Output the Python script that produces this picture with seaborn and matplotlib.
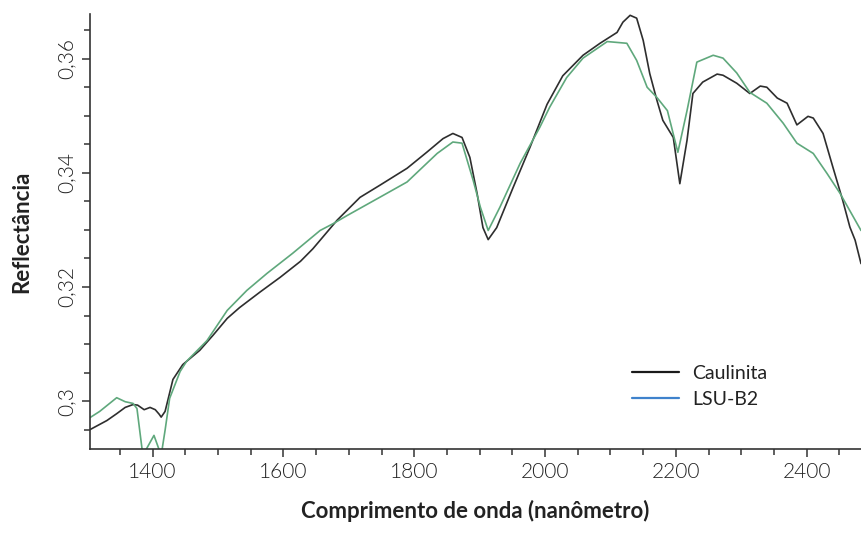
import matplotlib
matplotlib.use("Agg")
import matplotlib.pyplot as plt
from matplotlib.lines import Line2D
from matplotlib.ticker import MultipleLocator, FixedLocator, FixedFormatter
import pandas as pd
import seaborn as sns

# Reflectance spectra (wavelength in nm)
caulinita_nm = [1304, 1330, 1345, 1358, 1370, 1377, 1387, 1396, 1404, 1410, 1413, 1419,
                1425, 1431, 1446, 1472, 1492, 1514, 1533, 1564, 1595, 1626, 1645, 1682,
                1717, 1747, 1789, 1819, 1844, 1859, 1873, 1885, 1896, 1905, 1913, 1926,
                1951, 1977, 2003, 2027, 2058, 2084, 2110, 2119, 2130, 2140, 2150, 2160,
                2171, 2180, 2196, 2206, 2217, 2226, 2241, 2263, 2272, 2293, 2313, 2329,
                2339, 2355, 2370, 2385, 2402, 2410, 2425, 2440, 2455, 2466, 2474, 2483]
caulinita_r = [0.2950, 0.2966, 0.2978, 0.2989, 0.2994, 0.2993, 0.2985, 0.2989, 0.2985, 0.2977, 0.2972, 0.2982,
               0.3010, 0.3038, 0.3064, 0.3089, 0.3115, 0.3145, 0.3164, 0.3191, 0.3217, 0.3245, 0.3267, 0.3317,
               0.3357, 0.3378, 0.3408, 0.3436, 0.3460, 0.3469, 0.3462, 0.3427, 0.3364, 0.3304, 0.3283, 0.3304,
               0.3374, 0.3445, 0.3520, 0.3570, 0.3606, 0.3627, 0.3646, 0.3664, 0.3676, 0.3671, 0.3632, 0.3574,
               0.3527, 0.3492, 0.3462, 0.3381, 0.3457, 0.3539, 0.3559, 0.3573, 0.3571, 0.3557, 0.3539, 0.3552,
               0.3550, 0.3531, 0.3522, 0.3484, 0.3499, 0.3496, 0.3469, 0.3410, 0.3352, 0.3305, 0.3282, 0.3241]

lsu_nm = [1304, 1319, 1345, 1358, 1370, 1376, 1385, 1402, 1413, 1419, 1426, 1442,
          1452, 1483, 1514, 1544, 1575, 1614, 1656, 1676, 1697, 1747, 1789, 1835,
          1859, 1873, 1890, 1901, 1913, 1931, 1962, 1992, 2007, 2033, 2058, 2095,
          2125, 2140, 2156, 2171, 2187, 2203, 2217, 2232, 2257, 2272, 2293, 2313,
          2339, 2364, 2385, 2410, 2431, 2451, 2483]
lsu_r = [0.2971, 0.2982, 0.3006, 0.2999, 0.2996, 0.2987, 0.2905, 0.2940, 0.2905, 0.2949, 0.3005, 0.3052,
         0.3070, 0.3106, 0.3159, 0.3194, 0.3224, 0.3259, 0.3299, 0.3311, 0.3325, 0.3357, 0.3384, 0.3434,
         0.3454, 0.3452, 0.3387, 0.3340, 0.3299, 0.3340, 0.3417, 0.3480, 0.3515, 0.3567, 0.3601, 0.3630,
         0.3627, 0.3597, 0.3550, 0.3532, 0.3509, 0.3436, 0.3509, 0.3594, 0.3606, 0.3601, 0.3575, 0.3541,
         0.3522, 0.3487, 0.3452, 0.3434, 0.3399, 0.3364, 0.3299]

series_names = ["Caulinita", "LSU-B2"]
line_colors = {"Caulinita": "#2e2e2e", "LSU-B2": "#5fa87c"}
legend_colors = ["#1a1a1a", "#3f82cc"]

x_ticks = [1400, 1600, 1800, 2000, 2200, 2400]
y_ticks = [0.30, 0.32, 0.34, 0.36]
y_tick_labels = ["0,3", "0,32", "0,34", "0,36"]

df = pd.concat([
    pd.DataFrame({"nm": caulinita_nm, "r": caulinita_r, "amostra": "Caulinita"}),
    pd.DataFrame({"nm": lsu_nm, "r": lsu_r, "amostra": "LSU-B2"}),
])

sns.set_theme(style="ticks")
plt.rcParams["font.family"] = ["Lato", "DejaVu Sans"]

fig = plt.figure(figsize=(8.61, 5.45), dpi=100)
ax = fig.add_axes([0.104, 0.176, 0.896, 0.798])

sns.lineplot(data=df, x="nm", y="r", hue="amostra", hue_order=series_names,
             palette=line_colors, sort=False, estimator=None, linewidth=1.2,
             legend=False, ax=ax)

ax.set_xlim(1303.5, 2483)
ax.set_ylim(0.2916, 0.3678)

ax.xaxis.set_major_locator(FixedLocator(x_ticks))
ax.xaxis.set_minor_locator(MultipleLocator(50))
ax.yaxis.set_major_locator(FixedLocator(y_ticks))
ax.yaxis.set_major_formatter(FixedFormatter(y_tick_labels))
ax.yaxis.set_minor_locator(MultipleLocator(0.005))

ax.tick_params(axis="both", which="major", length=6, width=1.1, color="#333333",
               labelsize=15, labelcolor="#222222", pad=3)
ax.tick_params(axis="both", which="minor", length=4.5, width=1.1, color="#333333")
for lab in ax.get_xticklabels() + ax.get_yticklabels():
    lab.set_fontweight(300)
plt.setp(ax.get_yticklabels(), rotation=90, va="center")

for side in ("top", "right"):
    ax.spines[side].set_visible(False)
for side in ("left", "bottom"):
    ax.spines[side].set_color("#333333")
    ax.spines[side].set_linewidth(1.2)

ax.set_xlabel("Comprimento de onda (nanômetro)", fontsize=16, fontweight="bold",
              color="#222222", labelpad=13)
ax.set_ylabel("Reflectância", fontsize=16, fontweight="bold", color="#222222",
              labelpad=18)

handles = [Line2D([], [], color=c, linewidth=1.6) for c in legend_colors]
ax.legend(handles, series_names, loc="upper left", bbox_to_anchor=(0.725, 0.345),
          bbox_transform=fig.transFigure, borderaxespad=0, frameon=False,
          fontsize=14, handlelength=2.4, handletextpad=0.7,
          labelspacing=0.45, labelcolor="#222222")

fig.savefig("out.png", dpi=100)
